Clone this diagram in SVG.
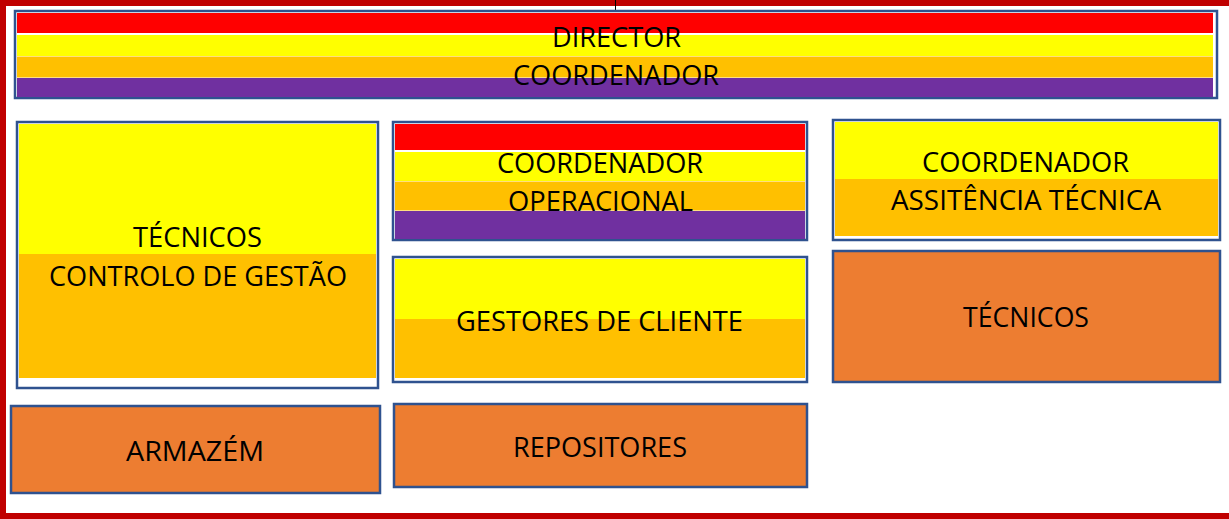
<svg xmlns="http://www.w3.org/2000/svg" width="1229" height="519" viewBox="0 0 1229 519">
<style>
.frame{fill:#C00000}
.box{fill:#FFFFFF;stroke:#2F528F;stroke-width:2.5}
.red{fill:#FF0000}
.yel{fill:#FFFF00}
.org{fill:#FFC000}
.pur{fill:#7030A0}
.dark{fill:#ED7D31;stroke:#2F528F;stroke-width:2.5}
text{font-family:"Open Sans","Noto Sans","Liberation Sans",sans-serif;font-size:28px;fill:#000000}
</style>
<rect width="1229" height="519" fill="#FFFFFF"/>
<g id="frame">
<rect class="frame" x="0" y="0" width="1229" height="6"/>
<rect class="frame" x="0" y="0" width="6" height="519"/>
<rect class="frame" x="0" y="513" width="1229" height="6"/>
</g>
<g id="connectors">
<line x1="615.5" y1="0" x2="615.5" y2="12" stroke="#000000" stroke-width="1"/>
</g>
<g id="director">
<rect class="box" x="15" y="11" width="1202" height="87"/>
<rect class="red" x="17" y="13" width="1196" height="20"/>
<rect class="yel" x="17" y="35" width="1196" height="21"/>
<rect class="org" x="17" y="56.5" width="1196" height="21"/>
<rect class="pur" x="17" y="78" width="1196" height="19"/>
<text x="616.5" y="47" text-anchor="middle" textLength="129" lengthAdjust="spacingAndGlyphs">DIRECTOR</text>
<text x="616" y="85" text-anchor="middle" textLength="206" lengthAdjust="spacingAndGlyphs">COORDENADOR</text>
</g>
<g id="tecnicos-controlo">
<rect class="box" x="17" y="122" width="361" height="266"/>
<rect class="yel" x="19" y="124" width="357" height="130"/>
<rect class="org" x="19" y="254" width="357" height="124"/>
<text x="197.5" y="247" text-anchor="middle" textLength="129" lengthAdjust="spacingAndGlyphs">TÉCNICOS</text>
<text x="198" y="286" text-anchor="middle" textLength="298" lengthAdjust="spacingAndGlyphs">CONTROLO DE GESTÃO</text>
</g>
<g id="coord-operacional">
<rect class="box" x="393" y="122" width="414" height="118"/>
<rect class="red" x="395" y="124" width="410" height="26"/>
<rect class="yel" x="395" y="152" width="410" height="29"/>
<rect class="org" x="395" y="181.5" width="410" height="29"/>
<rect class="pur" x="395" y="211" width="410" height="28"/>
<text x="600" y="173" text-anchor="middle" textLength="206" lengthAdjust="spacingAndGlyphs">COORDENADOR</text>
<text x="600.5" y="211" text-anchor="middle" textLength="185" lengthAdjust="spacingAndGlyphs">OPERACIONAL</text>
</g>
<g id="gestores">
<rect class="box" x="393" y="257" width="414" height="125"/>
<rect class="yel" x="395" y="259" width="410" height="60"/>
<rect class="org" x="395" y="319" width="410" height="59"/>
<text x="599.5" y="331" text-anchor="middle" textLength="287" lengthAdjust="spacingAndGlyphs">GESTORES DE CLIENTE</text>
</g>
<g id="coord-assistencia">
<rect class="box" x="833" y="120" width="387" height="120"/>
<rect class="yel" x="835" y="122" width="383" height="57"/>
<rect class="org" x="835" y="179" width="383" height="57"/>
<text x="1025.5" y="172" text-anchor="middle" textLength="207" lengthAdjust="spacingAndGlyphs">COORDENADOR</text>
<text x="1026" y="210" text-anchor="middle" textLength="270" lengthAdjust="spacingAndGlyphs">ASSITÊNCIA TÉCNICA</text>
</g>
<g id="tecnicos">
<rect class="dark" x="833" y="251" width="387" height="131"/>
<text x="1026" y="327" text-anchor="middle" textLength="126" lengthAdjust="spacingAndGlyphs">TÉCNICOS</text>
</g>
<g id="armazem">
<rect class="dark" x="11" y="406" width="369" height="87"/>
<text x="195" y="461" text-anchor="middle" textLength="138" lengthAdjust="spacingAndGlyphs">ARMAZÉM</text>
</g>
<g id="repositores">
<rect class="dark" x="394" y="404" width="413" height="83"/>
<text x="600" y="457" text-anchor="middle" textLength="174" lengthAdjust="spacingAndGlyphs">REPOSITORES</text>
</g>
</svg>
